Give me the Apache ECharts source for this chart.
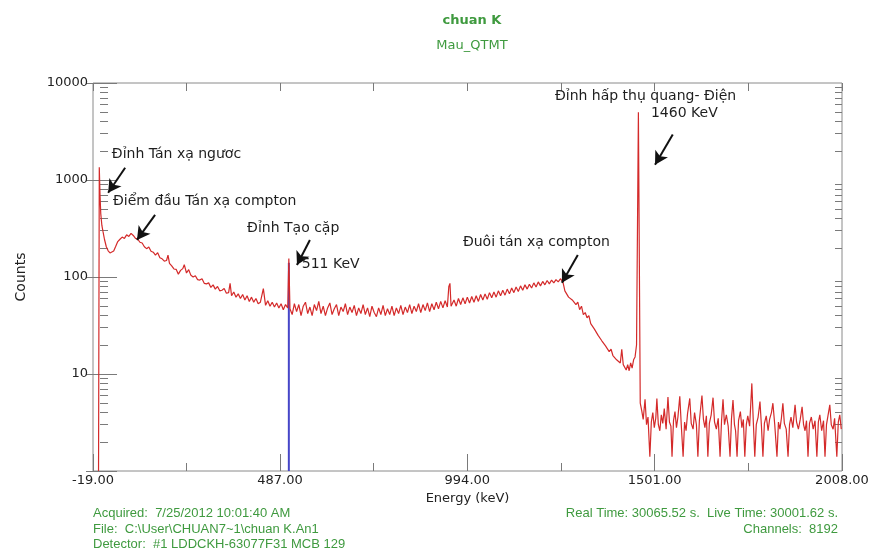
<!DOCTYPE html>
<html>
<head>
<meta charset="utf-8">
<script src="https://cdn.jsdelivr.net/npm/echarts@6/dist/echarts.min.js"></script>
<style>
  html, body { margin: 0; padding: 0; background: #fff; }
  #main { width: 872px; height: 554px; }
</style>
</head>
<body>
<div id="main"></div>
<script>
// spectrum, [keV, counts]
var lowEnd = [[-4,1],[-2,1350],[0,700],[2,450],[5,340],[8,295],[12,245],[17,205],[22,186],[27,177],[32,174],[37,185],[42,205],[48,232],[54,245],[60,258],[66,250],[72,272],[78,262],[84,282],[90,268],[96,250],[102,246],[108,228],[114,224],[120,205]];

var comptonSlope = [[126,196],[132,204],[138,184],[144,180],[150,168],[156,178],[162,158],[168,154],[174,146],[180,148],[184,168],[188,138],[194,130],[200,121],[206,120],[212,107],[218,117],[224,122],[228,134],[234,110],[240,119],[246,104],[252,100],[258,103],[264,94],[270,93],[276,96],[282,86],[288,85],[294,87],[300,78],[306,83],[312,75],[318,80],[324,72],[330,73],[336,76],[342,68],[348,69],[352,86],[356,64],[362,70],[368,62],[374,67],[380,60],[386,66],[392,58],[398,64],[404,56],[410,62],[416,55],[422,60],[428,53],[434,55],[438,57],[442,76],[448,51],[454,57],[460,50],[466,55],[472,49],[478,54],[484,48],[490,53],[496,46],[502,52],[508,48]];

var plateau = [[511,155],[514,47],[520,41],[526,53],[532,44],[538,52],[544,40],[550,50],[556,55],[562,42],[568,49],[574,40],[580,52],[586,45],[592,56],[598,42],[604,50],[610,40],[616,48],[622,54],[628,41],[634,47],[640,52],[646,40],[652,49],[658,44],[664,53],[670,41],[676,49],[682,43],[688,51],[694,40],[700,48],[706,42],[712,52],[718,41],[724,48],[730,39],[736,50],[742,43],[748,39],[754,48],[760,41],[766,51],[772,40],[778,47],[784,41],[790,50],[796,40],[802,48],[808,42],[814,51],[820,41],[826,49],[832,43],[838,52],[844,42],[850,50],[856,44],[862,53],[868,43],[874,52],[880,45],[886,54],[892,44],[898,53],[904,46],[910,55],[916,47],[922,56],[928,48],[934,57],[940,49],[944,80],[947,86],[950,50],[958,58],[964,50],[970,60],[976,52],[982,61],[988,53],[994,62],[1000,54],[1006,63],[1012,55],[1018,64],[1024,56],[1030,66],[1036,58],[1042,67],[1048,59],[1054,69],[1060,61],[1066,70],[1072,62],[1078,72],[1084,64],[1090,73],[1096,65],[1102,75],[1108,67],[1114,77],[1120,69],[1126,79],[1132,71],[1138,81],[1144,73],[1150,83],[1156,75],[1162,84],[1168,77],[1174,87],[1180,79],[1186,89],[1192,81],[1198,90],[1204,83],[1210,92],[1216,85],[1222,93],[1228,87],[1234,94],[1240,89],[1246,96],[1250,95]];

var comptonEdge = [[1253,88],[1258,72],[1263,74],[1268,62],[1273,64],[1278,58],[1283,60],[1288,52],[1293,55],[1298,46],[1303,50],[1308,41],[1313,43],[1318,38],[1323,40],[1328,33],[1333,34],[1338,29],[1343,30],[1348,25],[1353,26],[1358,22],[1363,23],[1368,19.5],[1373,20],[1378,17],[1383,18],[1388,15.5],[1393,16],[1398,14],[1403,14.5],[1408,13],[1412,18],[1416,12.5],[1420,13],[1424,11],[1428,12.5],[1432,10.8],[1436,13],[1440,11.5],[1444,14],[1448,15],[1452,20]];

var photopeak = [[1457,5000],[1462,5]];

var tail = [[1466,4.2],[1470,3.4],[1475,5.5],[1479,3.0],[1483,3.6],[1488,1.4],[1492,3.2],[1496,4.0],[1500,2.8],[1504,3.5],[1507,5.6],[1511,3.0],[1515,2.6],[1519,3.8],[1523,3.1],[1527,4.4],[1532,2.7],[1537,5.8],[1541,3.2],[1545,2.9],[1548,1.4],[1552,3.3],[1556,4.1],[1560,2.8],[1564,3.6],[1569,5.9],[1573,3.0],[1578,1.4],[1582,3.2],[1586,2.6],[1590,3.9],[1596,5.6],[1600,3.1],[1605,2.7],[1609,4.0],[1614,3.0],[1618,1.4],[1622,3.3],[1629,6.0],[1633,3.4],[1637,2.8],[1641,3.7],[1645,1.4],[1649,3.1],[1654,3.8],[1659,5.7],[1663,3.2],[1668,2.7],[1673,3.5],[1678,1.4],[1682,3.3],[1686,5.5],[1690,3.0],[1695,3.8],[1700,2.9],[1705,1.4],[1709,3.5],[1713,5.4],[1717,3.0],[1720,2.6],[1724,1.4],[1728,3.3],[1733,4.1],[1737,2.8],[1741,3.4],[1745,1.4],[1749,3.0],[1753,3.7],[1758,2.9],[1764,8.0],[1768,3.2],[1772,1.4],[1776,3.0],[1781,3.6],[1786,5.2],[1790,2.9],[1794,1.4],[1798,3.1],[1803,3.7],[1808,2.6],[1812,3.4],[1817,4.0],[1821,5.0],[1826,3.0],[1832,1.4],[1836,3.2],[1840,2.7],[1844,3.5],[1848,5.0],[1852,3.1],[1857,2.7],[1862,1.4],[1866,3.0],[1870,3.6],[1875,2.8],[1881,4.8],[1885,3.2],[1890,2.7],[1895,3.4],[1900,4.6],[1904,3.0],[1908,2.6],[1912,3.3],[1916,1.4],[1920,3.1],[1925,3.6],[1930,2.7],[1935,3.3],[1940,1.4],[1944,3.2],[1948,3.8],[1953,2.6],[1958,3.3],[1962,1.4],[1966,3.0],[1970,3.7],[1975,4.8],[1979,3.0],[1984,2.7],[1988,3.5],[1994,1.4],[1998,3.2],[2002,3.8],[2006,2.7]];

// 511 keV marker (blue)
var roiEnergy = [511, 511];
var roiCounts = [1, 140];

// axis ticks
var xMajor = [-19, 487, 994, 1501, 2008];
var xMinor = [234, 740.5, 1247.5, 1754.5];
var yMajor = [1, 10, 100, 1000, 10000];
var yLabels = [10, 100, 1000, 10000];
var yMinor = [2,3,4,5,6,7,8,9,20,30,40,50,60,70,80,90,200,300,400,500,600,700,800,900,2000,3000,4000,5000,6000,7000,8000,9000];

// annotations (text, [keV, counts])
var noteText = ['Đỉnh Tán xạ ngươc', 'Điểm đầu Tán xạ compton', 'Đỉnh Tạo cặp', '511 KeV', 'Đuôi tán xạ compton', 'Đỉnh hấp thụ quang- Điện', '1460 KeV'];
var noteAt = [[32,1824],[35,596],[398,315],[546,136],[982,230],[1231,7256],[1491,4840]];
var arrowFrom = [[68,1339],[149,437],[568,241],[1293,169],[1550,2937]];
var arrowTo = [[22,738],[100,241],[533,133],[1250,87],[1502,1438]];

var spectrum = lowEnd.concat(comptonSlope, plateau, comptonEdge, photopeak, tail);

var green = '#3f9a3f';
var tickColor = '#7a7a7a';
var font = 'DejaVu Sans';

var myChart = echarts.init(document.getElementById('main'));

function hiddenX(pos, values, len) {
    return {
        type: 'value', position: pos, min: -19, max: 2008,
        axisLine: { show: false }, splitLine: { show: false }, axisLabel: { show: false },
        axisTick: { inside: true, length: len, customValues: values, lineStyle: { color: tickColor } }
    };
}
function hiddenY(pos, values, len) {
    return {
        type: 'log', logBase: 10, position: pos, min: 1, max: 10000,
        axisLine: { show: false }, splitLine: { show: false }, axisLabel: { show: false },
        axisTick: { inside: true, length: len, customValues: values, lineStyle: { color: tickColor } }
    };
}

var option = {
    animation: false,
    backgroundColor: '#fff',
    title: [
        { text: 'chuan K', left: 467, top: 9, textAlign: 'center',
          textStyle: { color: green, fontSize: 13, fontWeight: 'bold', fontFamily: font } },
        { text: 'Mau_QTMT', left: 467, top: 34, textAlign: 'center',
          textStyle: { color: green, fontSize: 13, fontWeight: 'normal', fontFamily: font } }
    ],
    grid: {
        left: 93, right: 30, top: 83, bottom: 83,
        show: true, borderColor: '#8a8a8a', borderWidth: 1, backgroundColor: '#fff'
    },
    xAxis: [
        {
            type: 'value', position: 'bottom', min: -19, max: 2008,
            axisLine: { show: false }, splitLine: { show: false },
            axisTick: { inside: true, length: 17, customValues: xMajor, lineStyle: { color: tickColor } },
            axisLabel: { customValues: xMajor, formatter: function (v) { return v.toFixed(2); },
                         color: '#222', fontSize: 13, fontFamily: font, margin: 3 },
            name: 'Energy (keV)', nameLocation: 'middle', nameGap: 19,
            nameTextStyle: { color: '#222', fontSize: 13, fontFamily: font }
        },
        hiddenX('bottom', xMinor, 8),
        hiddenX('top', xMajor.concat(xMinor), 8)
    ],
    yAxis: [
        {
            type: 'log', logBase: 10, position: 'left', min: 1, max: 10000,
            axisLine: { show: false }, splitLine: { show: false },
            axisTick: { inside: true, length: 17, customValues: yMajor, lineStyle: { color: tickColor } },
            axisLabel: { customValues: yLabels, formatter: function (v) { return String(v); },
                         color: '#222', fontSize: 13, fontFamily: font, margin: 5 },
            name: 'Counts', nameLocation: 'middle', nameGap: 65,
            nameTextStyle: { color: '#222', fontSize: 14, fontFamily: font }
        },
        hiddenY('left', yMinor, 8),
        hiddenY('right', yMajor, 14),
        hiddenY('right', yMinor, 7)
    ],
    graphic: [
        { type: 'text', left: 93, top: 507, style: { text: 'Acquired:  7/25/2012 10:01:40 AM', fill: green, font: '13px "Liberation Sans"' } },
        { type: 'text', left: 93, top: 523, style: { text: 'File:  C:\\User\\CHUAN7~1\\chuan K.An1', fill: green, font: '13px "Liberation Sans"' } },
        { type: 'text', left: 93, top: 538, style: { text: 'Detector:  #1 LDDCKH-63077F31 MCB 129', fill: green, font: '13px "Liberation Sans"' } },
        { type: 'text', right: 34, top: 507, style: { text: 'Real Time: 30065.52 s.  Live Time: 30001.62 s.', fill: green, font: '13px "Liberation Sans"' } },
        { type: 'text', right: 34, top: 523, style: { text: 'Channels:  8192', fill: green, font: '13px "Liberation Sans"' } }
    ],
    series: [
        {
            name: 'roi', type: 'line', xAxisIndex: 0, yAxisIndex: 0,
            data: roiEnergy.map(function (e, i) { return [e, roiCounts[i]]; }),
            showSymbol: false, silent: true, z: 2,
            lineStyle: { color: '#4646c8', width: 2 }
        },
        {
            name: 'spectrum', type: 'line', xAxisIndex: 0, yAxisIndex: 0,
            data: spectrum,
            showSymbol: false, silent: true, z: 3,
            lineStyle: { color: '#d42a2a', width: 1.2 },
            markPoint: {
                symbol: 'circle', symbolSize: 0, silent: true,
                label: { show: true, position: 'right', distance: 0, formatter: '{b}',
                         color: '#1e1e1e', fontSize: 14, fontFamily: font },
                data: noteText.map(function (t, i) { return { name: t, coord: noteAt[i] }; })
            },
            markLine: {
                silent: true, symbol: ['none', 'arrow'], symbolSize: [11, 13],
                lineStyle: { color: '#111', width: 2, type: 'solid' },
                label: { show: false },
                data: arrowFrom.map(function (p, i) { return [{ coord: p }, { coord: arrowTo[i] }]; })
            }
        }
    ]
};

myChart.setOption(option);
</script>
</body>
</html>
